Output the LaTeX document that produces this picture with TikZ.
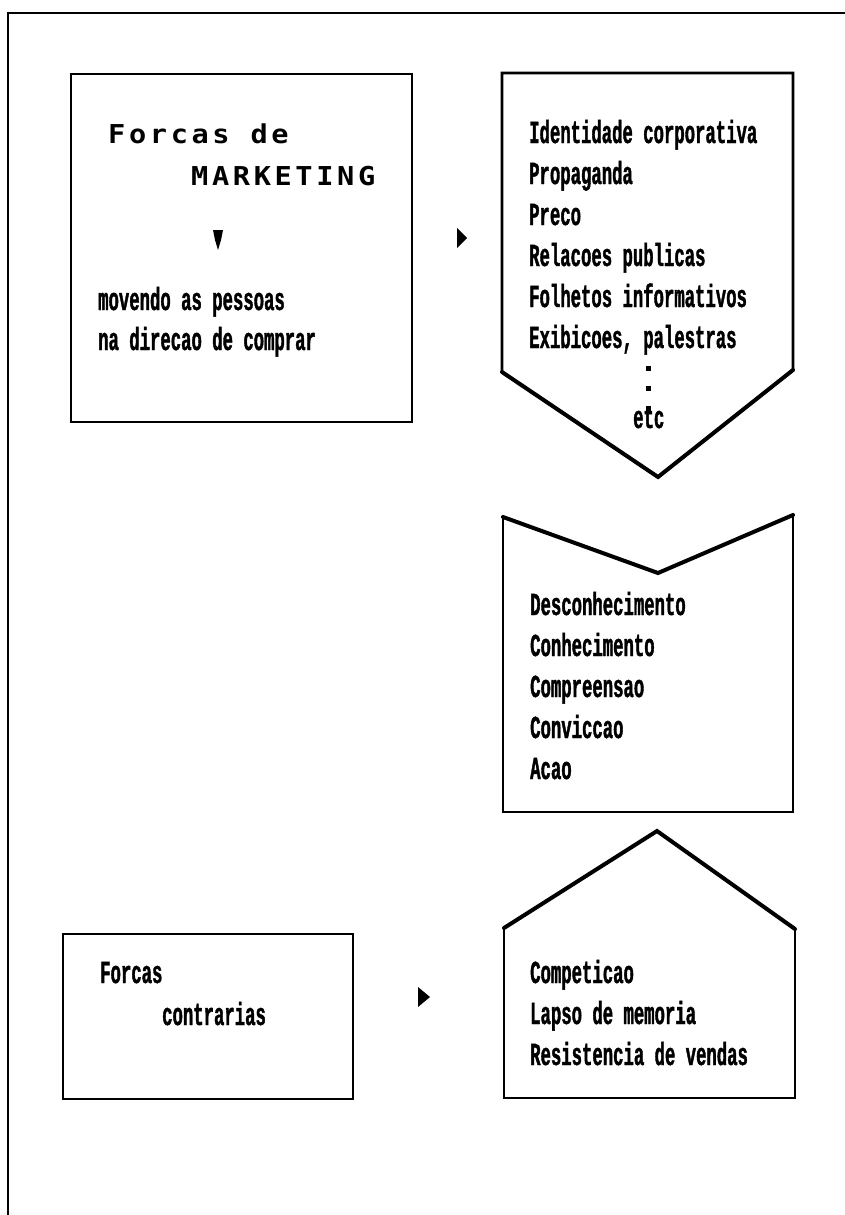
\documentclass[tikz,border=0pt]{standalone}
\usepackage{fontspec}
% condensed bold typewriter face for the printed lists
\newfontfamily\dotfont[FakeStretch=0.54,FakeBold=1.2]{Liberation Mono}
% wide spaced screen face for the title
\newfontfamily\scrfont[LetterSpace=14,FakeStretch=1.1]{DejaVu Sans Mono}
\begin{document}
\begin{tikzpicture}[x=1pt,y=-1pt,
  frame/.style={line width=2.9pt,line join=miter},
  slant/.style={line width=4pt,line cap=round},
  item/.style={anchor=base west,inner sep=0pt,font=\dotfont\bfseries\fontsize{32}{32}\selectfont},
  title/.style={anchor=base west,inner sep=0pt,font=\scrfont\bfseries\fontsize{26}{26}\selectfont},
  pointer/.style={fill=black}
]
\useasboundingbox (0,0) rectangle (845,1215);
\fill[white] (0,0) rectangle (845,1215);

% page frame (top and left edges)
\draw[frame] (8,1215) -- (8,13) -- (845,13);

% marketing forces box
\draw[frame] (71,74) rectangle (412,422);
\node[title] (t1) at (108,143) {Forcas de};
\node[title] (t2) at (191,185) {MARKETING};
\fill[pointer] (213,230) -- (223,230) -- (221,240) -- (218,250) -- (215,240) -- cycle;
\node[item] (m1) at (98,310) {movendo as pessoas};
\node[item] (m2) at (98,350) {na direcao de comprar};

% pointer to the list of tools
\fill[pointer] (457,228) -- (467,238) -- (457,248) -- cycle;

% tools box, pointing down
\draw[frame] (658,477) -- (502,372) -- (502,73) -- (793,73) -- (793,370) -- (658,477);
\draw[slant] (502,372) -- (658,477) -- (793,370);
\foreach \t [count=\i from 0] in {Identidade corporativa,Propaganda,Preco,Relacoes publicas,Folhetos informativos,{Exibicoes, palestras}}
  \node[item] (tool\i) at (529,143+41*\i) {\t};
\foreach \y [count=\i] in {368,388,408}
  \fill (645.5,\y-2.5) rectangle (650.5,\y+2.5);
\node[item] (etc) at (633,428) {etc};

% stages box, notched top
\draw[frame] (503,517) -- (503,812) -- (793,812) -- (793,515);
\draw[slant] (503,517) -- (658,573) -- (793,515);
\foreach \t [count=\i from 0] in {Desconhecimento,Conhecimento,Compreensao,Conviccao,Acao}
  \node[item] (stage\i) at (530,615+41*\i) {\t};

% opposing forces box
\draw[frame] (63,934) rectangle (353,1099);
\node[item] (c1) at (100,983) {Forcas};
\node[item] (c2) at (162,1025) {contrarias};

% pointer to the list of obstacles
\fill[pointer] (418,987) -- (430,997) -- (418,1007) -- cycle;

% obstacles box, pointing up
\draw[frame] (504,928) -- (504,1098) -- (795,1098) -- (795,929);
\draw[slant] (504,928) -- (657,831) -- (795,929);
\foreach \t [count=\i from 0] in {Competicao,Lapso de memoria,Resistencia de vendas}
  \node[item] (obs\i) at (530,983+41*\i) {\t};
\end{tikzpicture}
\end{document}
